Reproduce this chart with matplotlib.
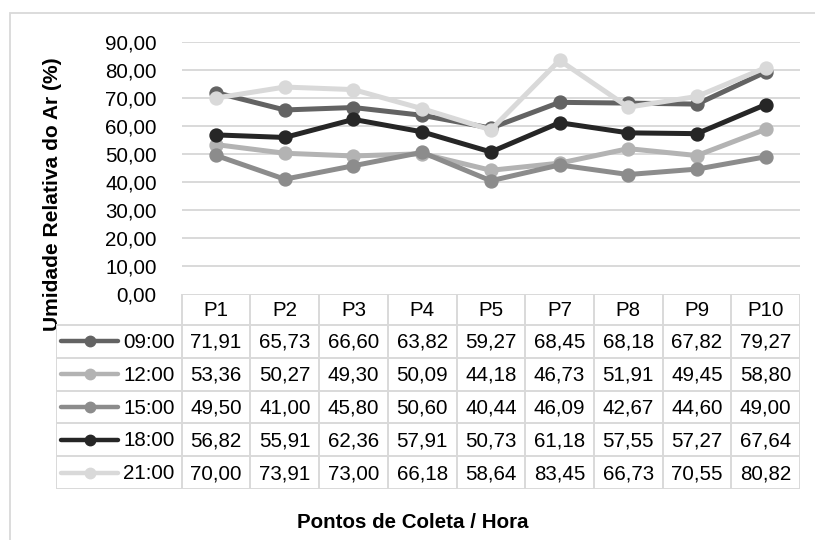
import matplotlib
matplotlib.use("Agg")
import matplotlib.pyplot as plt
from matplotlib.patches import Rectangle

plt.rcParams['font.family'] = ['Liberation Sans', 'DejaVu Sans']

# Data
pontos = ["P1", "P2", "P3", "P4", "P5", "P7", "P8", "P9", "P10"]
horas = ["09:00", "12:00", "15:00", "18:00", "21:00"]
h0900 = [71.91, 65.73, 66.60, 63.82, 59.27, 68.45, 68.18, 67.82, 79.27]
h1200 = [53.36, 50.27, 49.30, 50.09, 44.18, 46.73, 51.91, 49.45, 58.80]
h1500 = [49.50, 41.00, 45.80, 50.60, 40.44, 46.09, 42.67, 44.60, 49.00]
h1800 = [56.82, 55.91, 62.36, 57.91, 50.73, 61.18, 57.55, 57.27, 67.64]
h2100 = [70.00, 73.91, 73.00, 66.18, 58.64, 83.45, 66.73, 70.55, 80.82]
series = [h0900, h1200, h1500, h1800, h2100]
yticks = [0, 10, 20, 30, 40, 50, 60, 70, 80, 90]

colors = ["#636363", "#b3b3b3", "#8c8c8c", "#262626", "#d9d9d9"]
grid_c = "#d9d9d9"
FS = 14.8

W, H = 815, 540
fig = plt.figure(figsize=(W / 100, H / 100), dpi=100)


def px_axes(x0, y0, x1, y1):
    """Axes placed by pixel box (top-left origin)."""
    return fig.add_axes([x0 / W, 1 - y1 / H, (x1 - x0) / W, (y1 - y0) / H])


# outer chart frame
fig.patches.append(Rectangle((10 / W, -0.2), 1.2, 1.2 - 13 / H,
                             transform=fig.transFigure, fill=False,
                             edgecolor=grid_c, linewidth=1.3, zorder=0))

# plot area
x_left, x_right = 181.7, 800.0
y_top, y_zero = 42.0, 294.0
ax = px_axes(x_left, y_top, x_right, y_zero)
n = len(pontos)
xs = list(range(n))
ax.set_xlim(-0.5, n - 0.5)
ax.set_ylim(0, 90)
for s in ax.spines.values():
    s.set_visible(False)
ax.set_xticks([])
ax.set_yticks(yticks)
ax.set_yticklabels([f"{v:.2f}".replace(".", ",") for v in yticks], fontsize=FS)
ax.tick_params(axis="y", length=0, pad=18)
for v in yticks[1:]:
    ax.axhline(v, color=grid_c, linewidth=1.4, zorder=0)
for vals, c in zip(series, colors):
    ax.plot(xs, vals, color=c, linewidth=3.6, marker="o", markersize=9.3,
            solid_capstyle="round", zorder=3, clip_on=False)
ax.set_ylabel("Umidade Relativa do Ar (%)", fontsize=FS + 0.3, fontweight="bold")
ax.yaxis.set_label_coords((62 - x_left) / (x_right - x_left),
                          (y_zero - 194) / (y_zero - y_top))

# data table beneath the plot
t_left = 56.0
t_bot = 489.0
col_w = (x_right - x_left) / n
leg_cols = (x_left - t_left) / col_w
tax = px_axes(t_left, y_zero, x_right, t_bot)
tax.set_xlim(-0.5 - leg_cols, n - 0.5)
header_h = 31.0
row_h = (t_bot - y_zero - header_h) / len(series)
# y in pixels downward from table top
tax.set_ylim(t_bot - y_zero, 0)
tax.axis("off")

lw = 1.4
# horizontal lines
tax.hlines(0, -0.5, n - 0.5, color=grid_c, linewidth=lw)
for r in range(len(series) + 1):
    yy = header_h + r * row_h
    tax.hlines(yy, -0.5 - leg_cols, n - 0.5, color=grid_c, linewidth=lw)
# vertical lines
tax.vlines(-0.5 - leg_cols, header_h, t_bot - y_zero, color=grid_c, linewidth=lw)
for c in range(n + 1):
    tax.vlines(c - 0.5, 0, t_bot - y_zero, color=grid_c, linewidth=lw)

# header
for i, p in enumerate(pontos):
    tax.text(i, header_h / 2 + 1, p, ha="center", va="center", fontsize=FS)

# rows
kx0 = -0.5 - leg_cols + (61 - t_left) / col_w
kx1 = -0.5 - leg_cols + (118 - t_left) / col_w
for r, (h, vals, c) in enumerate(zip(horas, series, colors)):
    yc = header_h + (r + 0.5) * row_h
    # legend key
    tax.plot([kx0, kx1], [yc, yc], color=c, linewidth=3.2, solid_capstyle="round")
    tax.plot([(kx0 + kx1) / 2], [yc], color=c, marker="o", markersize=7.5)
    tax.text(-0.5 - 7 / col_w, yc + 1, h, ha="right", va="center", fontsize=FS)
    for i, v in enumerate(vals):
        tax.text(i, yc + 1, f"{v:.2f}".replace(".", ","), ha="center",
                 va="center", fontsize=FS)

fig.text(413 / W, 1 - 522 / H, "Pontos de Coleta / Hora", ha="center",
         va="center", fontsize=FS, fontweight="bold")

fig.savefig("out.png", dpi=100)
